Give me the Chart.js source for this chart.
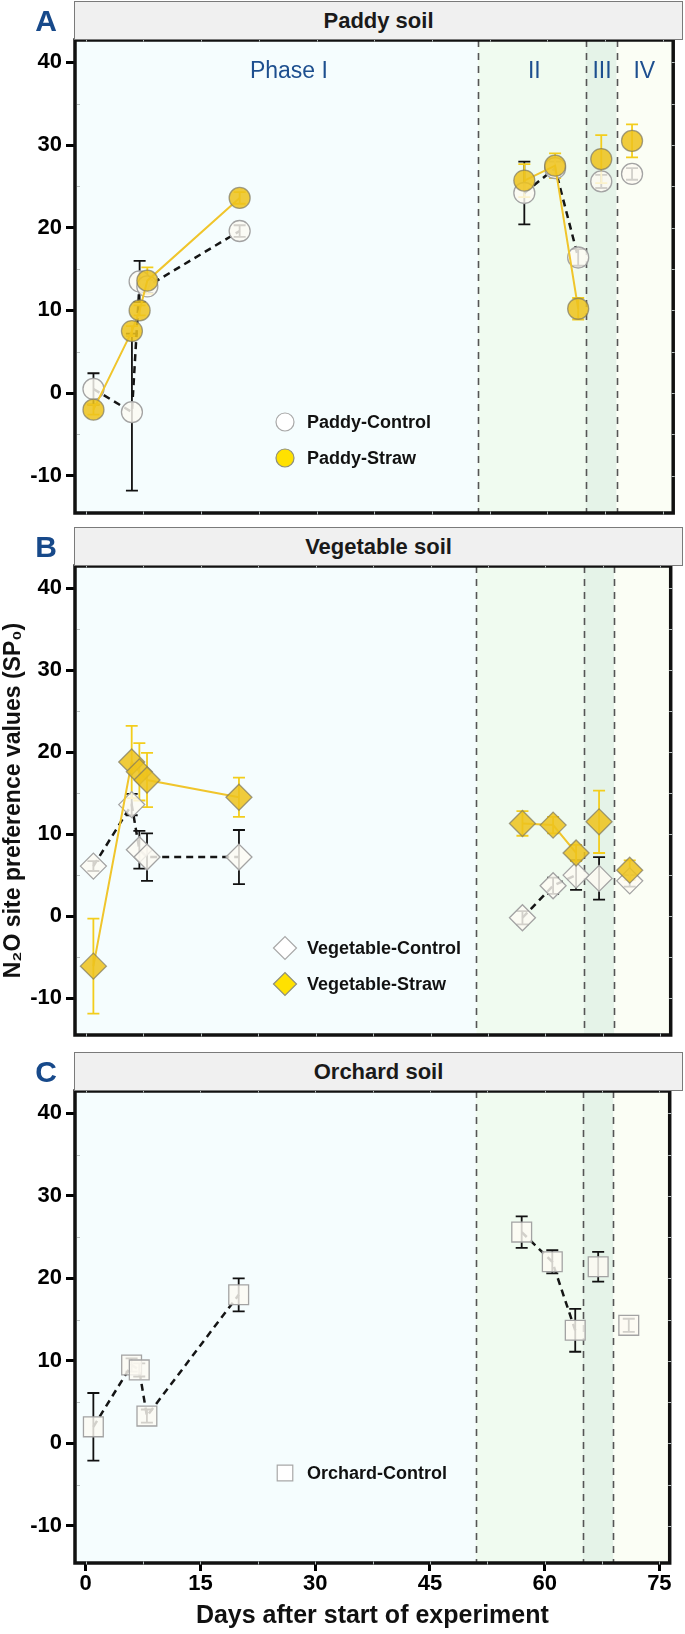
<!DOCTYPE html>
<html>
<head>
<meta charset="utf-8">
<title>N2O site preference values</title>
<script src="https://cdn.jsdelivr.net/npm/chart.js@4.4.1/dist/chart.umd.min.js"></script>
<style>
  html, body { margin: 0; padding: 0; background: #fff; }
  body { position: relative; width: 685px; height: 1634px; overflow: hidden;
         font-family: "Liberation Sans", Arial, sans-serif; }
  canvas { position: absolute; left: 0; }
  .strip { position: absolute; left: 74px; width: 607px; height: 37px; line-height: 37px;
           background: #f0f0f0; border: 1px solid #7a7a7a; text-align: center;
           font-size: 22px; font-weight: bold; color: #1a1a1a; }
  .tag { position: absolute; left: 29px; width: 34px; height: 39px; line-height: 39px; text-align: center;
         font-size: 30px; font-weight: bold; color: #17498a; }
</style>
</head>
<body>
<canvas id="paddy" width="685" height="530" style="top:0"></canvas>
<canvas id="vegetable" width="685" height="520" style="top:530px"></canvas>
<canvas id="orchard" width="685" height="584" style="top:1050px"></canvas>

<div class="tag" style="top:1px">A</div>
<div class="strip" style="top:1px">Paddy soil</div>
<div class="tag" style="top:527px">B</div>
<div class="strip" style="top:527px">Vegetable soil</div>
<div class="tag" style="top:1052px">C</div>
<div class="strip" style="top:1052px">Orchard soil</div>

<script>
// sampling days, same for every treatment
const days = [1, 6, 7, 8, 20, 57, 61, 64, 67, 71];
// lines only join points inside Phase I and inside Phase II
const breakAfter = [4, 7, 8];

const phaseEdges = [51, 65, 69];
const phaseNames = ['Phase I', 'II', 'III', 'IV'];
const phaseNameAt = [26.4, 58.3, 67.1, 72.6];
const phaseFills = ['#f5fdfe', '#f0fbf0', '#e5f3e8', '#fbfef5'];

const dayTicks = [0, 15, 30, 45, 60, 75];
const spTicks = [-10, 0, 10, 20, 30, 40];
const dayMin = -1.4, dayMax = 76.35;
const spMin = -14.5, spMax = 42.7;

// SP0 values (mean) and error bars
const paddyControl    = [0.5, -2.3, 13.5, 12.9, 19.6, 24.2, 27.2, 16.4, 25.6, 26.5];
const paddyControlErr = [1.9, 9.5, 2.5, 0.8, 0.7, 3.8, 0.8, 1.0, 0.8, 0.7];
const paddyStraw      = [-2.0, 7.5, 10.0, 13.6, 23.6, 25.7, 27.5, 10.2, 28.3, 30.5];
const paddyStrawErr   = [0.6, 0.6, 0.6, 1.6, 0.7, 2.0, 1.5, 1.3, 2.9, 2.0];

const vegControl      = [6.1, 13.6, 8.1, 7.2, 7.2, -0.2, 3.7, 5.0, 4.6, 4.3];
const vegControlErr   = [0.6, 1.3, 2.3, 2.9, 3.3, 0.8, 1.0, 1.8, 2.6, 0.7];
const vegStraw        = [-6.1, 18.8, 17.6, 16.6, 14.5, 11.3, 11.1, 7.7, 11.5, 5.6];
const vegStrawErr     = [5.8, 4.4, 3.5, 3.3, 2.4, 1.5, 1.0, 1.0, 3.8, 1.2];

const orchardControl    = [2.0, 9.5, 8.9, 3.3, 18.0, 25.6, 22.0, 13.7, 21.4, 14.3];
const orchardControlErr = [4.1, 0.8, 0.8, 0.8, 2.0, 1.9, 1.4, 2.6, 1.8, 0.8];

const FONT = '"Liberation Sans", Arial, sans-serif';
Chart.defaults.font.family = FONT;

function toPoints(vals, errs) {
  const pts = [];
  days.forEach((d, i) => {
    pts.push({ x: d, y: vals[i], e: errs[i] });
    if (breakAfter.includes(i)) pts.push({ x: (d + days[i + 1]) / 2, y: null, e: 0 });
  });
  return pts;
}

function controlSet(label, vals, errs, style, radius) {
  return {
    label, data: toPoints(vals, errs), order: 2, spanGaps: false,
    borderColor: '#151515', borderWidth: 2.5, borderDash: [7, 5],
    pointStyle: style, pointRadius: radius, pointBorderWidth: 1.3,
    pointBackgroundColor: 'rgba(253,250,243,0.82)', pointBorderColor: '#a3a3a3',
    errColor: '#111', legendFill: '#ffffff', legendBorder: '#a8a8a8'
  };
}

function strawSet(label, vals, errs, style, radius) {
  return {
    label, data: toPoints(vals, errs), order: 1, spanGaps: false,
    borderColor: '#f0c52c', borderWidth: 2,
    pointStyle: style, pointRadius: radius, pointBorderWidth: 1.3,
    pointBackgroundColor: 'rgba(238,194,28,0.86)', pointBorderColor: 'rgba(125,120,95,0.7)',
    errColor: '#f3cd1c', legendFill: '#ffe100', legendBorder: '#8f8f7a'
  };
}

const soilPlugin = {
  id: 'soil',
  beforeDraw(chart) {
    const { ctx, chartArea: a, scales: { x } } = chart;
    const edges = [x.min, ...phaseEdges, x.max];
    ctx.save();
    phaseFills.forEach((c, i) => {
      const x0 = x.getPixelForValue(edges[i]), x1 = x.getPixelForValue(edges[i + 1]);
      ctx.fillStyle = c;
      ctx.fillRect(x0, a.top, x1 - x0, a.bottom - a.top);
    });
    ctx.restore();
  },
  beforeDatasetsDraw(chart) {
    const { ctx, chartArea: a, scales: { x, y } } = chart;
    ctx.save();
    // phase boundaries
    ctx.strokeStyle = '#555';
    ctx.lineWidth = 1.6;
    ctx.setLineDash([7, 6]);
    phaseEdges.forEach(d => {
      const px = Math.round(x.getPixelForValue(d)) + 0.5;
      ctx.beginPath(); ctx.moveTo(px, a.top); ctx.lineTo(px, a.bottom); ctx.stroke();
    });
    ctx.setLineDash([]);
    // error bars
    chart.data.datasets.forEach((ds, di) => {
      const meta = chart.getDatasetMeta(di);
      ctx.strokeStyle = ds.errColor;
      ctx.lineWidth = 1.8;
      ds.data.forEach((p, i) => {
        if (p.y === null) return;
        const px = meta.data[i].x;
        const t = y.getPixelForValue(p.y + p.e), b = y.getPixelForValue(p.y - p.e);
        ctx.beginPath();
        ctx.moveTo(px, t); ctx.lineTo(px, b);
        ctx.moveTo(px - 6, t); ctx.lineTo(px + 6, t);
        ctx.moveTo(px - 6, b); ctx.lineTo(px + 6, b);
        ctx.stroke();
      });
    });
    ctx.restore();
  },
  afterDatasetsDraw(chart, args, opts) {
    const { ctx, chartArea: a, scales: { x, y } } = chart;
    ctx.save();
    // frame
    ctx.strokeStyle = '#111';
    ctx.lineWidth = 3.5;
    ctx.strokeRect(a.left, a.top, a.right - a.left, a.bottom - a.top);
    // small light notches on the spines
    ctx.strokeStyle = '#b9c0c0';
    ctx.lineWidth = 1;
    for (let d = 0; d <= 75; d += 7.5) {
      const px = Math.round(x.getPixelForValue(d)) + 0.5;
      ctx.beginPath();
      ctx.moveTo(px, a.top - 1.5); ctx.lineTo(px, a.top + 1.5);
      ctx.moveTo(px, a.bottom - 1.5); ctx.lineTo(px, a.bottom + 1.5);
      ctx.stroke();
    }
    for (let v = -10; v <= 40; v += 5) {
      const py = Math.round(y.getPixelForValue(v)) + 0.5;
      ctx.beginPath();
      ctx.moveTo(a.right - 1.5, py); ctx.lineTo(a.right + 1.5, py);
      if (v % 10 !== 0) { ctx.moveTo(a.left + 2, py); ctx.lineTo(a.left + 5, py); }
      ctx.stroke();
    }
    // phase names
    if (opts.phaseText) {
      ctx.fillStyle = '#1d4f8f';
      ctx.font = '23px ' + FONT;
      ctx.textAlign = 'center';
      ctx.textBaseline = 'middle';
      phaseNames.forEach((t, i) => ctx.fillText(t, x.getPixelForValue(phaseNameAt[i]), a.top + 32));
    }
    // legend
    const h = Chart.helpers;
    ctx.font = 'bold 18px ' + FONT;
    ctx.textAlign = 'left';
    ctx.textBaseline = 'middle';
    chart.data.datasets.forEach((ds, i) => {
      const ly = a.top + 382 + i * 36;
      const lx = a.left + 210;
      ctx.fillStyle = ds.legendFill;
      ctx.strokeStyle = ds.legendBorder;
      ctx.lineWidth = 1.2;
      h.drawPoint(ctx, { pointStyle: ds.pointStyle, radius: opts.legendRadius, rotation: 0, borderWidth: 1.2 }, lx, ly);
      ctx.fillStyle = '#111';
      ctx.fillText(ds.label, a.left + 232, ly + 1);
    });
    ctx.restore();
  }
};

function makeChart(id, datasets, cfg) {
  const showX = !!cfg.showX;
  const xScale = {
    type: 'linear', min: dayMin, max: dayMax, display: showX,
    afterBuildTicks: s => { s.ticks = dayTicks.map(v => ({ value: v })); },
    grid: { drawOnChartArea: false, tickLength: 8, lineWidth: 3, color: '#000' },
    border: { display: false },
    ticks: { color: '#000', padding: 2, maxRotation: 0, font: { size: 22, weight: 'bold', lineHeight: 1 } },
    title: {
      display: showX, text: 'Days after start of experiment', color: '#111',
      font: { size: 25, weight: 'bold' }, padding: { top: 0, bottom: 3 }
    }
  };
  if (showX) xScale.afterFit = s => { s.height = 71; };
  return new Chart(document.getElementById(id), {
    type: 'line',
    data: { datasets },
    plugins: [soilPlugin],
    options: {
      responsive: false, animation: false, events: [],
      layout: { padding: cfg.padding },
      scales: {
        x: xScale,
        y: {
          min: spMin, max: spMax,
          afterBuildTicks: s => { s.ticks = spTicks.map(v => ({ value: v })); },
          afterFit: s => { s.width = 75; },
          grid: { drawOnChartArea: false, tickLength: 9, lineWidth: 3, color: '#000' },
          border: { display: false },
          ticks: { color: '#000', padding: 4, font: { size: 22, weight: 'bold', lineHeight: 1 } },
          title: {
            display: !!cfg.yTitle, text: cfg.yTitle || '', color: '#111',
            font: { size: 23, weight: 'bold' }, padding: { top: 0, bottom: 0 }
          }
        }
      },
      plugins: {
        legend: { display: false },
        tooltip: { enabled: false },
        soil: { phaseText: !!cfg.phaseText, legendRadius: cfg.legendRadius }
      }
    }
  });
}

makeChart('paddy', [
  controlSet('Paddy-Control', paddyControl, paddyControlErr, 'circle', 10.5),
  strawSet('Paddy-Straw', paddyStraw, paddyStrawErr, 'circle', 10.5)
], { padding: { top: 40, bottom: 17, left: 0, right: 4 }, phaseText: true, legendRadius: 9 });

makeChart('vegetable', [
  controlSet('Vegetable-Control', vegControl, vegControlErr, 'rectRot', 13),
  strawSet('Vegetable-Straw', vegStraw, vegStrawErr, 'rectRot', 13)
], { padding: { top: 36, bottom: 12, left: 0, right: 4 }, legendRadius: 11.5,
     yTitle: 'N\u2082O site preference values (SP\u2080)' });

makeChart('orchard', [
  controlSet('Orchard-Control', orchardControl, orchardControlErr, 'rect', 14)
], { padding: { top: 41, bottom: 0, left: 0, right: 4 }, showX: true, legendRadius: 11 });
</script>
</body>
</html>
